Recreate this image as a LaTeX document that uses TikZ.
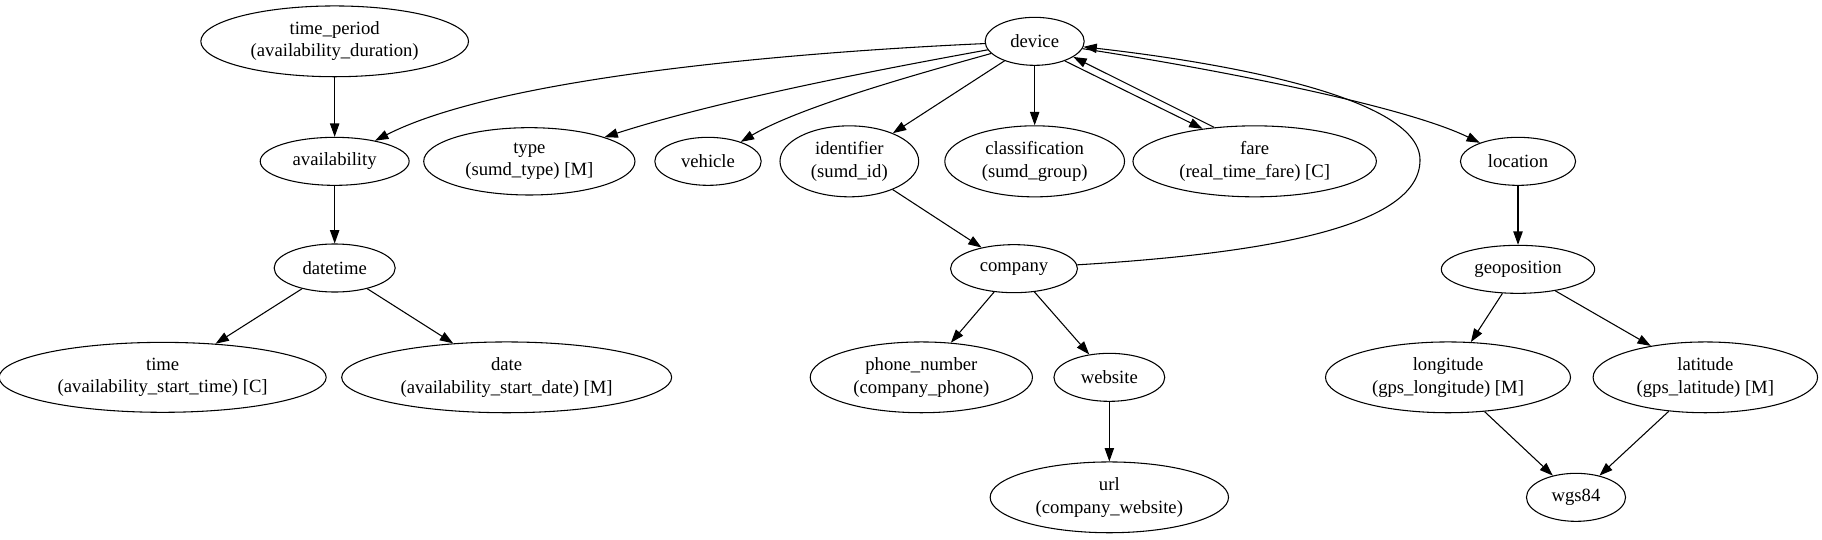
\documentclass[tikz,border=0pt]{standalone}
\usepackage{fontspec}
\setmainfont{Liberation Serif}
\usetikzlibrary{shapes.geometric,arrows.meta}
\tikzset{
	attr/.style={draw,thick,ellipse,align=center,inner xsep=8pt,inner ysep=4pt,minimum width=54pt,minimum height=36pt,font=\fontsize{14}{16.8}\selectfont},
	link/.style={thick,-{Triangle[length=10pt,width=7pt]}}
}
\begin{document}
\begin{tikzpicture}[x=1pt,y=-1pt]
		\useasboundingbox (0,0) rectangle (1366.5,404.25);
		\node[attr] (timeperiod) at (251,31) {time\_period\\(availability\_duration)};
		\node[attr] (device) at (776,31) {device};
		\node[attr] (availability) at (251,121) {availability};
		\node[attr] (type) at (397,121) {type\\(sumd\_type) [M]};
		\node[attr] (vehicle) at (531,121) {vehicle};
		\node[attr] (identifier) at (637,121) {identifier\\(sumd\_id)};
		\node[attr] (classification) at (776,121) {classification\\(sumd\_group)};
		\node[attr] (fare) at (941,121) {fare\\(real\_time\_fare) [C]};
		\node[attr] (location) at (1138.5,121) {location};
		\node[attr] (datetime) at (251,201) {datetime};
		\node[attr] (company) at (760.5,201.5) {company};
		\node[attr] (geoposition) at (1138.5,202) {geoposition};
		\node[attr] (time) at (122,283) {time\\(availability\_start\_time) [C]};
		\node[attr] (date) at (380,283) {date\\(availability\_start\_date) [M]};
		\node[attr] (phone) at (691,283) {phone\_number\\(company\_phone)};
		\node[attr] (website) at (832,283) {website};
		\node[attr] (longitude) at (1086,283) {longitude\\(gps\_longitude) [M]};
		\node[attr] (latitude) at (1279,283) {latitude\\(gps\_latitude) [M]};
		\node[attr] (url) at (832,373) {url\\(company\_website)};
		\node[attr] (wgs) at (1182,373) {wgs84};
		\draw[link] (timeperiod) -- (availability);
		\draw[link] (availability) -- (datetime);
		\draw[link] (datetime) -- (time);
		\draw[link] (datetime) -- (date);
		\draw[link] (device) .. controls (620,38) and (380,55) .. (availability);
		\draw[link] (device) .. controls (660,52) and (540,75) .. (type);
		\draw[link] (device) .. controls (690,55) and (600,80) .. (vehicle);
		\draw[link] (device) -- (identifier);
		\draw[link] (device) -- (classification);
		\draw[link] (device.-33) -- (fare.148);
		\draw[link] (fare.140) -- (device.-22);
		\draw[link] (device) .. controls (900,50) and (1050,78) .. (location);
		\draw[link] (company) .. controls (950,190) and (1065,170) .. (1065,120) .. controls (1065,70) and (900,45) .. (device);
		\draw[link] (identifier) -- (company);
		\draw[link] (company) -- (phone);
		\draw[link] (company) -- (website);
		\draw[link] (website) -- (url);
		\draw[link] (location) -- (geoposition);
		\draw[link] (geoposition) -- (longitude);
		\draw[link] (geoposition) -- (latitude);
		\draw[link] (longitude) -- (wgs);
		\draw[link] (latitude) -- (wgs);
	\end{tikzpicture}
\end{document}
